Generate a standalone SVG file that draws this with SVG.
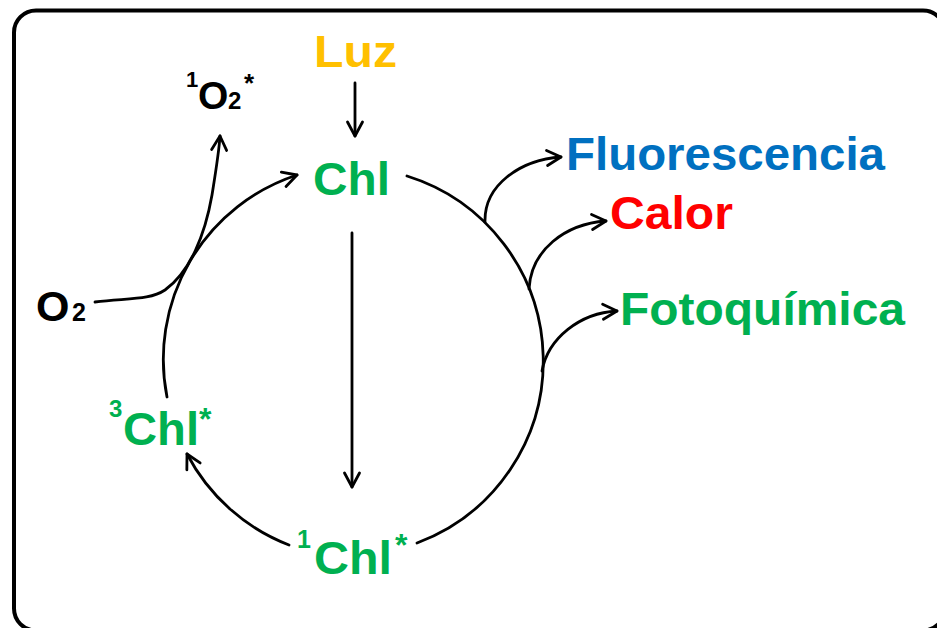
<svg xmlns="http://www.w3.org/2000/svg" width="937" height="628" viewBox="0 0 937 628">
<style>
text{font-family:"Liberation Sans",Arial,sans-serif;font-weight:bold}
.k{fill:#000}
.g{fill:#00B050}
.o{fill:#FFC000}
.b{fill:#0070C0}
.r{fill:#FF0000}
.ln{fill:none;stroke:#000;stroke-width:2.8;stroke-linecap:round}
</style>
<defs>
<marker id="ah" markerUnits="userSpaceOnUse" markerWidth="30" markerHeight="30" viewBox="-15 -15 30 30" refX="0" refY="0" orient="auto" overflow="visible">
<path d="M-14,-7.5 L0,0 L-14,7.5" fill="none" stroke="#000" stroke-width="2.8" stroke-linecap="round" stroke-linejoin="round"/>
</marker>
</defs>
<rect x="14" y="10.5" width="931" height="620" rx="22" fill="#fff" stroke="#000" stroke-width="4"/>
<g id="connectors">
<path class="ln" d="M355,83 L355,136" marker-end="url(#ah)"/>
<path class="ln" d="M352,233 L352,487" marker-end="url(#ah)"/>
<path class="ln" d="M407,176 A194,194 0 0 1 417,543"/>
<path class="ln" d="M289,545 A194,194 0 0 1 187,454" marker-end="url(#ah)"/>
<path class="ln" d="M167,397 A194,194 0 0 1 297,175" marker-end="url(#ah)"/>
<path class="ln" d="M95,302 C130,298 150,300 165,290 C190,272 205,235 212,195 C216,170 219,152 220,136" marker-end="url(#ah)"/>
<path class="ln" d="M485,222 C484,185 520,160 561,157" marker-end="url(#ah)"/>
<path class="ln" d="M529,289 C531,250 565,224 606,221" marker-end="url(#ah)"/>
<path class="ln" d="M542,371 C548,338 580,313 617,311" marker-end="url(#ah)"/>
</g>
<g id="luz"><text class="o" x="314" y="67" font-size="45" textLength="83" lengthAdjust="spacingAndGlyphs">Luz</text></g>
<g id="chl"><text class="g" x="313" y="195" font-size="46" textLength="77" lengthAdjust="spacingAndGlyphs">Chl</text></g>
<g id="singlet-o2">
<text class="k" x="186" y="87" font-size="22">1</text>
<text class="k" x="198" y="109" font-size="39">O</text>
<text class="k" x="228" y="109" font-size="24">2</text>
<text class="k" x="244" y="92" font-size="26">*</text>
</g>
<g id="o2">
<text class="k" x="36" y="321" font-size="43">O</text>
<text class="k" x="72" y="321" font-size="25">2</text>
</g>
<g id="fluorescencia"><text class="b" x="566" y="170" font-size="46" textLength="319" lengthAdjust="spacingAndGlyphs">Fluorescencia</text></g>
<g id="calor"><text class="r" x="610" y="229" font-size="46" textLength="123" lengthAdjust="spacingAndGlyphs">Calor</text></g>
<g id="fotoquimica"><text class="g" x="620" y="325" font-size="46" textLength="285" lengthAdjust="spacingAndGlyphs">Fotoquímica</text></g>
<g id="triplet-chl">
<text class="g" x="109" y="417" font-size="24">3</text>
<text class="g" x="123" y="445" font-size="46" textLength="76" lengthAdjust="spacingAndGlyphs">Chl</text>
<text class="g" x="199" y="430" font-size="32">*</text>
</g>
<g id="singlet-chl">
<text class="g" x="297" y="548" font-size="25">1</text>
<text class="g" x="314" y="574" font-size="46" textLength="78" lengthAdjust="spacingAndGlyphs">Chl</text>
<text class="g" x="395" y="556" font-size="32">*</text>
</g>
</svg>
